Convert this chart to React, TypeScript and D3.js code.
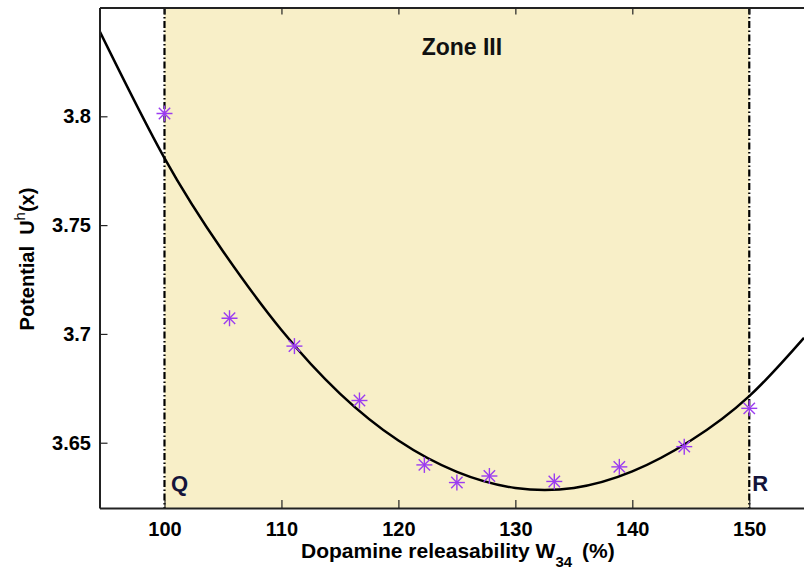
import React, { useEffect, useRef } from 'react';
import * as d3 from 'd3';

// measured points (W34 %, potential)
const wValues = [100, 105.56, 111.11, 116.67, 122.22, 125, 127.78, 133.33, 138.89, 144.44, 150];
const uValues = [3.8013, 3.7072, 3.6944, 3.6694, 3.6398, 3.6317, 3.6347, 3.6322, 3.6389, 3.6482, 3.6658];

// fitted curve
const fitW = [94.44, 100, 105, 110, 115, 120, 125, 130, 135, 140, 145, 150, 154.68];
const fitU = [3.8393, 3.7808, 3.7380, 3.7018, 3.6726, 3.6510, 3.6366, 3.6292, 3.6292, 3.6368, 3.6510, 3.6714, 3.6982];

const xTicks = [100, 110, 120, 130, 140, 150];
const yTicks = [3.65, 3.7, 3.75, 3.8];
const zoneBounds = [100, 150];

const FONT = "Arial, 'Liberation Sans', Helvetica, sans-serif";

const App = () => {
    const svgRef = useRef<SVGSVGElement | null>(null);

    useEffect(() => {
        const width = 804;
        const height = 573;
        const left = 99.5, right = 804, top = 7.5, bottom = 508;

        const svg = d3.select(svgRef.current);
        svg.selectAll("*").remove();
        svg.attr("width", width).attr("height", height);

        const x = d3.scaleLinear().domain([94.443, 154.68]).range([left, right]);
        const y = d3.scaleLinear().domain([3.62, 3.85]).range([bottom, top]);

        svg.append("rect").attr("width", width).attr("height", height).attr("fill", "white");

        svg.append("defs").append("clipPath").attr("id", "plotclip")
            .append("rect")
            .attr("x", left).attr("y", top)
            .attr("width", right - left).attr("height", bottom - top);

        // Zone III shading
        svg.append("rect")
            .attr("x", x(zoneBounds[0]))
            .attr("y", top)
            .attr("width", x(zoneBounds[1]) - x(zoneBounds[0]))
            .attr("height", bottom - top)
            .attr("fill", "#f8efc8");

        // Q / R boundaries
        svg.selectAll("line.zone")
            .data(zoneBounds)
            .enter()
            .append("line")
            .attr("class", "zone")
            .attr("x1", d => x(d)).attr("x2", d => x(d))
            .attr("y1", top).attr("y2", bottom)
            .attr("stroke", "black")
            .attr("stroke-width", 2.2)
            .attr("stroke-dasharray", "7,2.5,1.5,2.5");

        const plot = svg.append("g").attr("clip-path", "url(#plotclip)");

        const line = d3.line<number>()
            .x((d, i) => x(fitW[i]))
            .y(d => y(d))
            .curve(d3.curveNatural);

        plot.append("path")
            .datum(fitU)
            .attr("d", line)
            .attr("fill", "none")
            .attr("stroke", "black")
            .attr("stroke-width", 2.5);

        // asterisk markers
        const marker = plot.selectAll("g.pt")
            .data(wValues)
            .enter()
            .append("g")
            .attr("class", "pt")
            .attr("transform", (d, i) => `translate(${x(d)},${y(uValues[i])})`)
            .attr("stroke", "#9b3cf0")
            .attr("stroke-width", 1.4);
        const r = 8, rd = 5.7;
        marker.append("line").attr("x1", -r).attr("x2", r).attr("y1", 0).attr("y2", 0);
        marker.append("line").attr("x1", 0).attr("x2", 0).attr("y1", -r).attr("y2", r);
        marker.append("line").attr("x1", -rd).attr("x2", rd).attr("y1", -rd).attr("y2", rd);
        marker.append("line").attr("x1", -rd).attr("x2", rd).attr("y1", rd).attr("y2", -rd);

        // axes
        const xAxis = svg.append("g")
            .attr("transform", `translate(0,${bottom})`)
            .call(d3.axisBottom(x).tickValues(xTicks).tickSize(-8).tickSizeOuter(0).tickPadding(14).tickFormat(d3.format("d")));
        xAxis.selectAll("text")
            .style("font-family", FONT).style("font-size", "20px").style("font-weight", "bold").attr("fill", "black");

        svg.append("g")
            .attr("transform", `translate(0,${top})`)
            .call(d3.axisTop(x).tickValues(xTicks).tickSize(-7).tickSizeOuter(0).tickFormat(() => ""));

        const yAxis = svg.append("g")
            .attr("transform", `translate(${left},0)`)
            .call(d3.axisLeft(y).tickValues(yTicks).tickSize(-8).tickSizeOuter(0).tickPadding(8.5).tickFormat(d => String(+d)));
        yAxis.selectAll("text")
            .style("font-family", FONT).style("font-size", "20px").style("font-weight", "bold").attr("fill", "black");

        svg.selectAll(".domain").attr("stroke", "#222").attr("stroke-width", 2);
        svg.selectAll(".tick line").attr("stroke", "#222").attr("stroke-width", 1.2);

        // zone labels
        const lab = (t: string, px: number, py: number, size: number, color: string, anchor: string) =>
            svg.append("text")
                .attr("x", px).attr("y", py)
                .attr("text-anchor", anchor)
                .style("font-family", FONT)
                .style("font-size", `${size}px`)
                .style("font-weight", "bold")
                .attr("fill", color)
                .text(t);

        lab("Zone III", (x(zoneBounds[0]) + x(zoneBounds[1])) / 2 + 5, 55, 23, "#111", "middle");
        lab("Q", x(zoneBounds[0]) + 6.5, 491, 22, "#14143a", "start");
        lab("R", x(zoneBounds[1]) + 3, 491, 22, "#14143a", "start");

        // x-axis title
        const xt = svg.append("text")
            .attr("x", 301).attr("y", 558)
            .style("font-family", FONT).style("font-size", "21px").style("font-weight", "bold")
            .attr("fill", "black");
        xt.append("tspan").text("Dopamine releasability W");
        xt.append("tspan").attr("dy", 9).style("font-size", "15px").text("34");
        xt.append("tspan").attr("dy", -9).attr("dx", 10).text("(%)");

        // y-axis title
        const yt = svg.append("text")
            .attr("transform", `translate(34,259) rotate(-90)`)
            .attr("text-anchor", "middle")
            .style("font-family", FONT).style("font-size", "20px").style("font-weight", "bold")
            .style("white-space", "pre")
            .attr("fill", "black");
        yt.append("tspan").text("Potential  U");
        yt.append("tspan").attr("dy", -9).style("font-size", "15px").style("font-weight", "normal").text("h");
        yt.append("tspan").attr("dy", 9).text("(x)");
    }, []);

    return (
        <div style={{ position: 'absolute', left: 0, top: 0 }}>
            <svg ref={svgRef} style={{ display: 'block' }}></svg>
        </div>
    );
};

export default App;
